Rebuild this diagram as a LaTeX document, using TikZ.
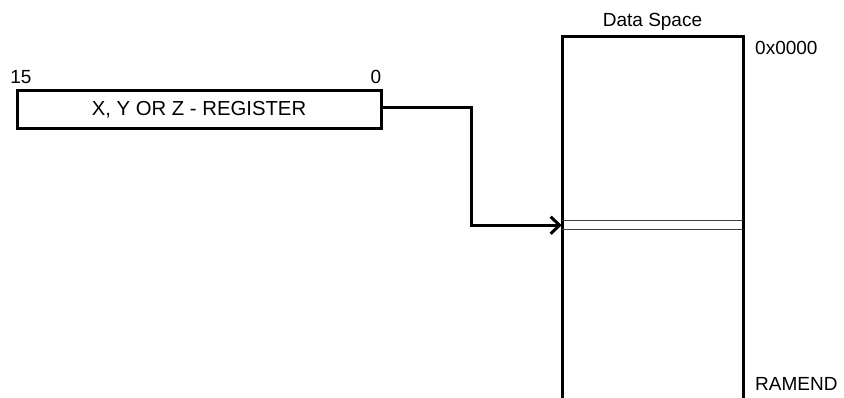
\documentclass[tikz,border=0pt]{standalone}
\usepackage{fontspec}
\setmainfont{Liberation Sans}
\usetikzlibrary{arrows.meta}
\begin{document}
\begin{tikzpicture}[x=1pt,y=-1pt,
  lbl/.style={font=\fontsize{19}{22}\selectfont, inner sep=0pt},
  regbox/.style={draw, line width=3pt, minimum width=364pt, minimum height=38pt, inner sep=0pt, font=\fontsize{20.3}{24}\selectfont},
  memwall/.style={line width=3pt},
  slotline/.style={line width=1.4pt, draw=black!75},
  conn/.style={line width=3pt, -{Straight Barb[length=9pt,width=17pt,line width=3pt]}}]
\useasboundingbox (0,0) rectangle (844,398);
\node[regbox] (reg) at (199,110) {X, Y OR Z - REGISTER};
\node[lbl] (b15) at (21,77) {15};
\node[lbl] (b0) at (376,77) {0};
\node[lbl] (ds) at (652.5,22) {Data Space};
\node[lbl, anchor=west] (top) at (755,47.5) {0x0000};
\node[lbl, anchor=west] (end) at (755,384) {RAMEND};
% memory column (open at bottom)
\draw[memwall] (562,398) -- (562,37) -- (743,37) -- (743,398);
\node[inner sep=0pt, minimum width=181pt, minimum height=8.5pt] (slot) at (652.5,225.25) {};
\draw[slotline] (slot.north west) -- (slot.north east);
\draw[slotline] (slot.south west) -- (slot.south east);
\coordinate (bend) at (471,108);
\draw[conn] (reg.east |- bend) -- (bend) |- (slot.west);
\end{tikzpicture}
\end{document}
